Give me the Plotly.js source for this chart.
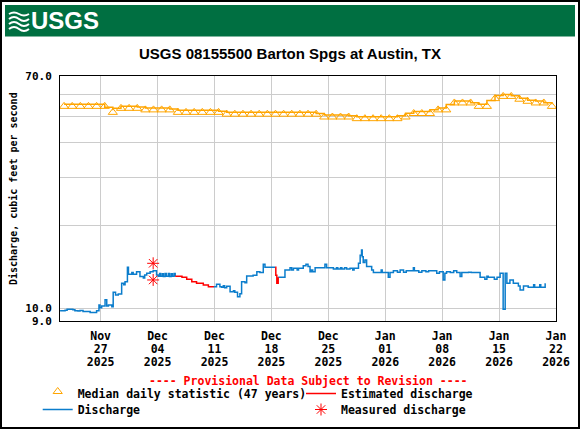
<!DOCTYPE html>
<html><head><meta charset="utf-8">
<script src="https://cdn.plot.ly/plotly-3.0.1.min.js"></script>
<style>html,body{margin:0;padding:0;background:#fff;} #chart{width:580px;height:430px;}</style>
</head><body><div id="chart"></div>
<script>
// ---------------- data ----------------
const medianDates = [
 '2025-11-22','2025-11-23','2025-11-24','2025-11-25','2025-11-26','2025-11-27','2025-11-28','2025-11-29','2025-11-30',
 '2025-12-01','2025-12-02','2025-12-03','2025-12-04','2025-12-05','2025-12-06','2025-12-07','2025-12-08','2025-12-09','2025-12-10',
 '2025-12-11','2025-12-12','2025-12-13','2025-12-14','2025-12-15','2025-12-16','2025-12-17','2025-12-18','2025-12-19','2025-12-20',
 '2025-12-21','2025-12-22','2025-12-23','2025-12-24','2025-12-25','2025-12-26','2025-12-27','2025-12-28','2025-12-29','2025-12-30','2025-12-31',
 '2026-01-01','2026-01-02','2026-01-03','2026-01-04','2026-01-05','2026-01-06','2026-01-07','2026-01-08','2026-01-09','2026-01-10',
 '2026-01-11','2026-01-12','2026-01-13','2026-01-14','2026-01-15','2026-01-16','2026-01-17','2026-01-18','2026-01-19','2026-01-20','2026-01-21'
];
const medianValues = [
 55.2,55.2,55.2,55.2,55.2,55.2,52.5,54.3,54.3,
 54.3,53.6,53.6,53.6,53.6,52.5,52.5,52.5,52.5,52.5,
 52.5,51.7,51.7,51.7,51.7,51.7,51.7,51.7,51.7,51.7,
 51.7,51.7,51.7,50.5,50.5,50.5,50.5,49.8,49.8,49.8,49.8,
 49.8,49.8,50.5,52.0,52.0,52.0,53.6,53.6,56.8,56.8,
 56.8,55.2,55.2,58.9,60.0,60.0,58.6,57.6,56.8,56.8,55.2
];

const dischargeTimes = [
 '2025-11-22 00:15','2025-11-22 15:00','2025-11-22 21:00','2025-11-23 14:00','2025-11-23 20:00','2025-11-24 05:00','2025-11-24 11:00','2025-11-24 20:00',
 '2025-11-25 17:00','2025-11-26 12:00','2025-11-26 19:00','2025-11-26 22:00','2025-11-27 03:00','2025-11-27 13:00','2025-11-27 18:00','2025-11-27 23:00',
 '2025-11-28 09:00','2025-11-28 13:00','2025-11-28 20:00','2025-11-29 04:00','2025-11-29 14:00','2025-11-29 20:00','2025-11-30 00:00','2025-11-30 07:00',
 '2025-11-30 10:00','2025-11-30 20:00','2025-12-01 00:00','2025-12-01 10:00','2025-12-01 20:00','2025-12-02 06:00','2025-12-02 10:00','2025-12-02 16:00',
 '2025-12-03 02:00','2025-12-03 11:00','2025-12-03 21:00','2025-12-04 02:00','2025-12-04 06:00','2025-12-04 09:00','2025-12-04 14:00','2025-12-04 17:00',
 '2025-12-04 22:00','2025-12-05 02:00','2025-12-05 08:00','2025-12-05 11:00','2025-12-05 16:00','2025-12-05 20:00','2025-12-06 01:00','2025-12-06 04:00',
 '2025-12-08 00:00',
 '2025-12-10 20:00','2025-12-11 06:00','2025-12-11 16:00','2025-12-11 21:00','2025-12-12 02:00','2025-12-12 06:00','2025-12-12 12:00','2025-12-12 22:00',
 '2025-12-13 08:00','2025-12-13 12:00','2025-12-13 20:00','2025-12-14 03:00','2025-12-14 08:00','2025-12-14 18:00','2025-12-14 23:00','2025-12-15 18:00',
 '2025-12-16 05:00','2025-12-16 14:00','2025-12-17 00:00','2025-12-17 05:00','2025-12-18 11:00',
 '2025-12-18 15:00',
 '2025-12-18 20:00','2025-12-19 16:00','2025-12-20 07:00','2025-12-20 12:00','2025-12-20 17:00','2025-12-21 04:00','2025-12-21 08:00','2025-12-21 22:00',
 '2025-12-22 06:00','2025-12-22 12:00','2025-12-22 18:00','2025-12-22 22:00','2025-12-23 02:00','2025-12-23 09:00','2025-12-24 14:00','2025-12-24 19:00',
 '2025-12-25 15:00','2025-12-26 00:00','2025-12-26 04:00','2025-12-26 12:00','2025-12-26 16:00','2025-12-27 00:00','2025-12-27 06:00','2025-12-27 16:00',
 '2025-12-28 00:00','2025-12-28 04:00','2025-12-28 17:00','2025-12-28 22:00','2025-12-29 02:00','2025-12-29 04:00','2025-12-29 07:00','2025-12-29 12:00',
 '2025-12-29 17:00','2025-12-30 08:00','2025-12-30 13:00','2025-12-31 12:00','2025-12-31 15:00','2026-01-01 09:00','2026-01-01 14:00','2026-01-02 00:00',
 '2026-01-02 12:00','2026-01-02 20:00','2026-01-03 06:00','2026-01-03 14:00','2026-01-04 11:00','2026-01-04 14:00','2026-01-05 03:00','2026-01-05 12:00',
 '2026-01-06 00:00','2026-01-06 08:00','2026-01-07 08:00','2026-01-07 16:00','2026-01-08 03:00','2026-01-08 08:00','2026-01-08 13:00','2026-01-09 00:00',
 '2026-01-09 10:00','2026-01-09 19:00','2026-01-10 05:00','2026-01-10 10:00','2026-01-11 06:00','2026-01-11 14:00','2026-01-12 16:00','2026-01-13 06:00',
 '2026-01-13 12:00','2026-01-13 16:00','2026-01-14 10:00','2026-01-14 18:00','2026-01-15 03:00','2026-01-15 12:00','2026-01-15 18:00','2026-01-15 23:00',
 '2026-01-16 08:00','2026-01-16 18:00','2026-01-17 09:00','2026-01-17 14:00','2026-01-18 00:00','2026-01-18 14:00','2026-01-19 06:00','2026-01-19 09:00',
 '2026-01-20 00:00','2026-01-20 03:00','2026-01-20 16:00','2026-01-20 18:00'
];
const dischargeValues = [
 9.81,9.85,9.93,9.88,9.81,9.78,9.82,9.74,
 9.66,9.80,10.29,10.05,10.20,10.75,10.20,10.29,
 10.14,11.44,11.20,11.28,12.34,12.20,12.51,14.11,
 13.31,13.50,13.31,13.60,13.05,12.90,13.23,13.42,
 13.60,13.72,13.23,13.10,13.40,13.08,13.38,13.06,
 13.40,13.08,13.40,13.06,13.38,13.08,13.40,13.10,
 null,
 12.00,12.23,12.00,11.93,12.10,11.90,12.05,11.50,
 11.60,11.45,11.03,11.30,12.51,12.40,13.12,13.20,
 13.60,13.50,14.47,14.11,14.11,
 null,
 12.98,13.78,14.07,13.80,14.00,13.80,14.00,14.30,
 14.47,14.20,13.60,13.80,13.60,14.07,14.47,14.07,
 13.92,14.07,13.92,14.07,13.92,14.07,13.92,14.00,
 13.78,14.00,14.59,15.60,16.30,15.40,14.70,15.00,
 14.20,13.78,13.50,13.78,13.50,12.98,13.50,13.70,
 13.55,13.78,13.55,13.70,14.07,13.70,13.55,13.70,
 13.60,13.70,13.42,13.60,12.69,13.42,13.60,13.50,
 13.70,13.50,13.05,13.50,13.55,13.50,12.98,12.76,
 13.10,12.98,12.76,12.98,13.42,9.93,13.42,12.34,
 12.69,12.34,12.06,11.67,12.06,11.93,12.20,11.93,
 12.20,11.93,12.27,12.27
];

const estimatedTimes = [
 '2025-12-06 04:00','2025-12-07 00:00','2025-12-07 14:00','2025-12-08 05:00','2025-12-08 19:00','2025-12-09 15:00','2025-12-10 06:00','2025-12-10 20:00',
 '2025-12-14 00:00',
 '2025-12-18 11:00','2025-12-18 13:00','2025-12-18 16:00','2025-12-18 20:00'
];
const estimatedValues = [
 13.10,12.98,12.76,12.51,12.34,12.17,12.00,11.93,
 null,
 14.11,13.20,12.34,12.98
];

const measuredTimes = ['2025-12-03 11:00','2025-12-03 11:00'];
const measuredValues = [14.59, 12.69];

const xTickDates = ['2025-11-27','2025-12-04','2025-12-11','2025-12-18','2025-12-25','2026-01-01','2026-01-08','2026-01-15','2026-01-22'];
const xTickMonths = ['Nov','Dec','Dec','Dec','Dec','Jan','Jan','Jan','Jan'];
const xTickDays   = ['27','04','11','18','25','01','08','15','22'];
const xTickYears  = ['2025','2025','2025','2025','2025','2026','2026','2026','2026'];
const yTickValues = [9, 10, 20, 30, 40, 50, 60, 70];
const yTickLabels = ['9.0', '10.0', '', '', '', '', '', '70.0'];

// ---------------- styling ----------------
const MONO = 'DejaVu Sans Mono, Liberation Mono, monospace';
const SANS = 'Liberation Sans, Arial, Helvetica, sans-serif';
const ORANGE = '#ffa500', BLUE = '#0b7dcc', RED = '#ff0000', GREEN = '#006f41';
const L = 60, T = 76, W = 496, H = 245;
const px = v => (v - L) / W;          // page pixel -> paper x
const py = v => (T + H - v) / H;      // page pixel -> paper y
const X_RANGE = ['2025-11-22 00:00', '2026-01-22 00:00'];

const medianX = medianDates.map(d => d + ' 12:00');

const traces = [
  { x: medianX, y: medianValues, mode: 'lines', line: {color: ORANGE, width: 1.5, shape: 'vhv'},
    showlegend: false, hoverinfo: 'skip' },
  { x: medianX, y: medianValues, mode: 'markers', name: 'Median daily statistic (47 years)',
    marker: {symbol: 'triangle-up-open', size: 8, color: ORANGE, line: {width: 1, color: ORANGE}, standoff: 2},
    legend: 'legend' },
  { x: dischargeTimes, y: dischargeValues, mode: 'lines', name: 'Discharge', connectgaps: false,
    line: {color: BLUE, width: 1.5, shape: 'hv'}, legend: 'legend3' },
  { x: estimatedTimes, y: estimatedValues, mode: 'lines', name: 'Estimated discharge', connectgaps: false,
    line: {color: RED, width: 1.5, shape: 'hv'}, legend: 'legend2' },
  { x: measuredTimes, y: measuredValues, mode: 'markers', name: 'Measured discharge',
    marker: {symbol: 'asterisk-open', size: 10, color: RED, line: {width: 1, color: RED}},
    legend: 'legend4' },
  // empty traces that attach the day and year label axes to the plot
  { x: [], y: [], xaxis: 'x2', yaxis: 'y', mode: 'lines', showlegend: false, hoverinfo: 'skip' },
  { x: [], y: [], xaxis: 'x3', yaxis: 'y', mode: 'lines', showlegend: false, hoverinfo: 'skip' }
];

const legendFont = {family: MONO, size: 11.5, color: '#000', weight: 700};
const mkLegend = (x, y) => ({orientation: 'h', xanchor: 'left', yanchor: 'middle', x: px(x), y: py(y),
  bgcolor: 'rgba(0,0,0,0)', borderwidth: 0, font: legendFont});

const tickFont = {family: MONO, size: 11.5, weight: 700, color: '#000'};
const overlayX = (text, standoff) => ({
  type: 'date', range: X_RANGE, overlaying: 'x', anchor: 'y', side: 'bottom',
  tickmode: 'array', tickvals: xTickDates, ticktext: text, ticklabelstandoff: standoff,
  ticks: 'outside', ticklen: 4, tickcolor: 'rgba(0,0,0,0)', tickfont: tickFont,
  showgrid: false, showline: false, zeroline: false, fixedrange: true
});

const layout = {
  width: 580, height: 430,
  margin: {l: L, r: 580 - L - W, t: T, b: 430 - T - H, pad: 0, autoexpand: false},
  paper_bgcolor: '#ffffff', plot_bgcolor: '#ffffff',
  font: {family: MONO, size: 11.5, color: '#000'},
  title: {text: 'USGS 08155500 Barton Spgs at Austin, TX', x: 0.5, xref: 'container', xanchor: 'center',
          y: 1 - 54 / 430, yref: 'container', yanchor: 'middle',
          font: {family: SANS, size: 15, weight: 700, color: '#000'}},
  xaxis: {
    type: 'date', range: X_RANGE,
    tickmode: 'array', tickvals: xTickDates, ticktext: xTickMonths,
    ticks: 'outside', ticklen: 4, tickcolor: 'rgba(0,0,0,0)', tickfont: tickFont,
    showgrid: true, gridcolor: '#cccccc', gridwidth: 1,
    showline: true, linecolor: '#000', linewidth: 1, mirror: true, zeroline: false, fixedrange: true
  },
  xaxis2: overlayX(xTickDays, 13),
  xaxis3: overlayX(xTickYears, 26),
  yaxis: {
    type: 'log', range: [Math.log10(9), Math.log10(70)],
    tickmode: 'array', tickvals: yTickValues, ticktext: yTickLabels,
    ticks: 'outside', ticklen: 5, tickcolor: 'rgba(0,0,0,0)',
    tickfont: {family: MONO, size: 11, weight: 700, color: '#000'},
    showgrid: true, gridcolor: '#cccccc', gridwidth: 1,
    showline: true, linecolor: '#000', linewidth: 1, mirror: true, zeroline: false, fixedrange: true
  },
  legend:  mkLegend(37.7, 393.5),
  legend2: mkLegend(301, 393.5),
  legend3: mkLegend(37.7, 409.5),
  legend4: mkLegend(301, 409.5),
  shapes: [
    {type: 'rect', xref: 'paper', yref: 'paper', x0: px(5), x1: px(575), y0: py(36.5), y1: py(5),
     fillcolor: GREEN, line: {width: 0}, layer: 'below'},
    {type: 'rect', xref: 'paper', yref: 'paper', x0: px(1), x1: px(579), y0: py(428), y1: py(1),
     fillcolor: 'rgba(0,0,0,0)', line: {width: 2, color: '#000'}},
    // USGS wave emblem
    {type: 'path', xref: 'paper', yref: 'paper', xsizemode: 'pixel', ysizemode: 'pixel', xanchor: px(9), yanchor: py(32),
     path: 'M0,3 Q5,7 10,3 T20,3', line: {color: '#fff', width: 2}},
    {type: 'path', xref: 'paper', yref: 'paper', xsizemode: 'pixel', ysizemode: 'pixel', xanchor: px(9), yanchor: py(32),
     path: 'M0,8 Q5,12 10,8 T20,8', line: {color: '#fff', width: 2}},
    {type: 'path', xref: 'paper', yref: 'paper', xsizemode: 'pixel', ysizemode: 'pixel', xanchor: px(9), yanchor: py(32),
     path: 'M0,13 Q5,17 10,13 T20,13', line: {color: '#fff', width: 2}},
    {type: 'path', xref: 'paper', yref: 'paper', xsizemode: 'pixel', ysizemode: 'pixel', xanchor: px(9), yanchor: py(32),
     path: 'M0,18 Q5,21 10,18 T20,18', line: {color: '#fff', width: 2}}
  ],
  annotations: [
    {text: 'USGS', xref: 'paper', yref: 'paper', x: px(29), y: py(21), xanchor: 'left', yanchor: 'middle', showarrow: false,
     font: {family: SANS, size: 24, weight: 700, color: '#fff'}},
    {text: 'Discharge, cubic feet per second', xref: 'paper', yref: 'paper', x: px(13), y: py(189),
     xanchor: 'center', yanchor: 'middle', textangle: -90, showarrow: false,
     font: {family: MONO, size: 10, weight: 700, color: '#000'}},
    {text: '---- Provisional Data Subject to Revision ----', xref: 'paper', yref: 'paper', x: 0.5, y: py(380.5),
     xanchor: 'center', yanchor: 'middle', showarrow: false,
     font: {family: MONO, size: 11.5, weight: 700, color: RED}}
  ],
  hovermode: false
};

Plotly.newPlot('chart', traces, layout, {staticPlot: true, displayModeBar: false});
</script>
</body></html>
